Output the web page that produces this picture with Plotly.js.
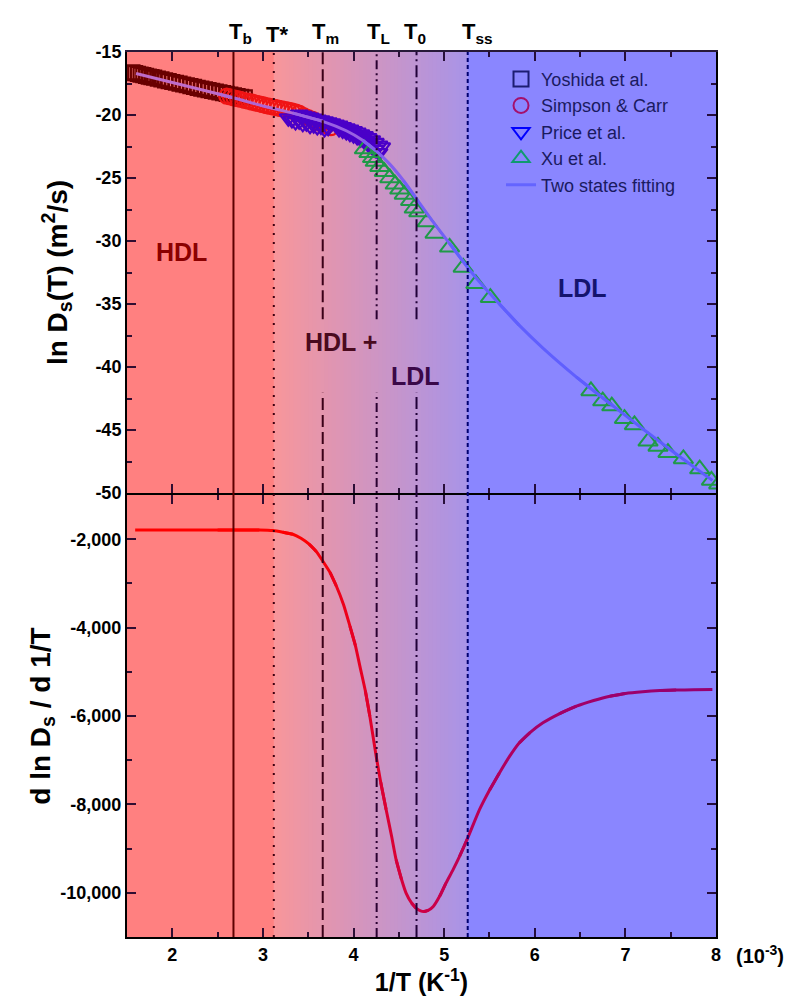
<!DOCTYPE html>
<html><head><meta charset="utf-8">
<script src="https://cdn.plot.ly/plotly-3.0.1.min.js"></script>
<style>html,body{margin:0;padding:0;background:#fff}#chart{width:791px;height:1001px}</style>
</head><body><div id="chart"></div>
<script>
// ---------- data ----------
const fitX = [1.60,2.00,2.50,2.67,3.00,3.33,3.66,3.92,4.10,4.25,4.40,4.55,4.69,4.88,5.06,5.26,5.42,5.61,5.83,6.09,6.46,6.83,7.19,7.56,7.96];
const fitY = [-16.70,-17.42,-18.32,-18.63,-19.28,-19.85,-20.50,-21.25,-22.00,-22.85,-23.90,-25.20,-26.60,-28.50,-30.20,-32.10,-33.50,-35.00,-36.70,-38.50,-40.80,-42.90,-44.90,-46.90,-49.00];

const derivX = [1.59,2.00,2.50,2.96,3.11,3.22,3.33,3.42,3.51,3.59,3.66,3.74,3.81,3.89,3.96,4.02,4.07,4.13,4.18,4.25,4.30,4.36,4.42,4.47,4.53,4.58,4.64,4.69,4.74,4.78,4.83,4.88,4.95,5.02,5.10,5.17,5.26,5.39,5.50,5.61,5.72,5.83,5.95,6.09,6.27,6.46,6.65,6.83,7.00,7.19,7.38,7.56,7.75,7.96];
const derivY = [-1790,-1790,-1790,-1790,-1803,-1840,-1887,-1980,-2113,-2280,-2492,-2750,-3058,-3480,-3965,-4400,-4872,-5430,-6005,-6911,-7500,-8119,-8720,-9252,-9700,-10008,-10230,-10348,-10410,-10424,-10390,-10310,-10080,-9780,-9470,-9177,-8760,-8119,-7680,-7287,-6920,-6607,-6370,-6154,-5950,-5778,-5650,-5551,-5490,-5451,-5425,-5413,-5405,-5400];

const yoshidaX = [1.56,1.59,1.62,1.65,1.68,1.71,1.74,1.77,1.80,1.84,1.88,1.92,1.96,2.00,2.04,2.08,2.12,2.16,2.20,2.24,2.28,2.32,2.36,2.40,2.44,2.48,2.52,2.56,2.60,2.64,2.68,2.72,2.76,2.80];
const yoshidaY = [-16.62,-16.68,-16.73,-16.79,-16.84,-16.89,-16.95,-17.00,-17.04,-17.11,-17.18,-17.25,-17.31,-17.38,-17.44,-17.51,-17.58,-17.64,-17.71,-17.77,-17.84,-17.90,-17.97,-18.03,-18.09,-18.15,-18.21,-18.27,-18.33,-18.39,-18.44,-18.50,-18.55,-18.60];

const simpsonX = [2.60,2.64,2.68,2.72,2.76,2.80,2.84,2.88,2.92,2.96,3.00,3.04,3.08,3.12,3.16,3.20,3.24,3.28,3.32,3.36,3.40,3.45,3.50,3.55,3.60,3.65,3.70,3.75];
const simpsonY = [-18.50,-18.56,-18.64,-18.70,-18.77,-18.85,-18.91,-18.98,-19.05,-19.11,-19.18,-19.25,-19.31,-19.37,-19.43,-19.50,-19.56,-19.62,-19.68,-19.75,-19.85,-20.05,-20.20,-20.35,-20.55,-20.70,-20.85,-21.00];

const priceX = [3.28,3.32,3.36,3.40,3.44,3.48,3.52,3.56,3.60,3.64,3.68,3.72,
                3.40,3.44,3.48,3.52,3.56,3.60,3.64,3.68,3.72,3.76,3.80,3.84,3.88,3.92,3.96,4.00,4.04,4.08,4.12,4.16,4.20,4.24,4.28,4.31,
                3.84,3.88,3.92,3.96,4.00,4.04,4.08,4.12,4.16,4.20,4.24,4.28];
const priceY = [-20.25,-20.40,-20.55,-20.50,-20.70,-20.65,-20.85,-20.80,-20.95,-20.90,-21.10,-21.00,
                -19.95,-20.03,-20.11,-20.19,-20.27,-20.35,-20.40,-20.48,-20.56,-20.64,-20.75,-20.83,-20.95,-21.04,-21.13,-21.25,-21.37,-21.52,-21.66,-21.82,-22.00,-22.20,-22.40,-22.55,
                -21.10,-21.22,-21.35,-21.48,-21.60,-21.75,-21.92,-22.10,-22.30,-22.50,-22.75,-23.00];

const xuX = [4.12,4.17,4.21,4.24,4.29,4.34,4.40,4.46,4.51,4.56,4.63,4.67,4.72,4.81,4.90,5.06,5.21,5.35,5.51,6.62,6.75,6.85,6.99,7.10,7.25,7.36,7.47,7.64,7.82,7.95,8.03];
const xuY = [-22.70,-23.00,-23.40,-23.70,-24.10,-24.50,-25.00,-25.50,-25.90,-26.30,-26.80,-27.40,-27.70,-28.50,-29.40,-30.50,-32.10,-33.40,-34.50,-41.90,-42.70,-43.10,-44.10,-44.60,-45.90,-46.30,-46.80,-47.30,-48.10,-49.00,-49.30];

const transitionNames = ['T<sub>b</sub>','T*','T<sub>m</sub>','T<sub>L</sub>','T<sub>0</sub>','T<sub>ss</sub>'];
const transitionX = [2.675, 3.12, 3.66, 4.255, 4.695, 5.26];

const xTickVals = [2,3,4,5,6,7,8];
const xTickText = ['2','3','4','5','6','7','8'];
const topTickVals = [-15,-20,-25,-30,-35,-40,-45,-50];
const topTickText = ['-15','-20','-25','-30','-35','-40','-45','-50'];
const botTickVals = [-2000,-4000,-6000,-8000,-10000];
const botTickText = ['-2,000','-4,000','-6,000','-8,000','-10,000'];

const legendNames = ['Yoshida et al.','Simpson &amp; Carr','Price et al.','Xu et al.','Two states fitting'];

// ---------- styling ----------
const FONT = 'Arial, "Liberation Sans", sans-serif';
const XMIN = 1.5, XMAX = 8.0;

function lerpStops(stops, x) {
  if (x <= stops[0][0]) return stops[0][1];
  for (let i = 1; i < stops.length; i++) {
    if (x <= stops[i][0]) {
      const t = (x - stops[i-1][0]) / (stops[i][0] - stops[i-1][0]);
      return stops[i-1][1].map((c, k) => Math.round(c + t * (stops[i][1][k] - c)));
    }
  }
  return stops[stops.length-1][1];
}
const rgb = c => `rgb(${c[0]},${c[1]},${c[2]})`;

const traces = [];
function markerTrace(x, y, symbol, color, size, lw) {
  return {x, y, type:'scatter', mode:'markers', xaxis:'x', yaxis:'y', showlegend:false, hoverinfo:'skip',
    marker:{symbol, size, color, line:{width:lw, color}}};
}
traces.push(markerTrace(yoshidaX, yoshidaY, 'square-open', '#6a0000', 14, 2.2));
traces.push(markerTrace(simpsonX, simpsonY, 'circle-open', '#f01414', 15, 2.2));
traces.push(markerTrace(priceX, priceY, 'triangle-down-open', '#4a00c8', 15, 2.2));
traces.push(markerTrace(xuX, xuY, 'triangle-up-open', '#1f9a48', 17, 2));

// gradient-coloured smooth curve: short spline pieces sharing end points
function gradientCurve(xs, ys, stops, xa, ya, width) {
  const step = 3;
  for (let i = 0; i < xs.length - 1; i += step) {
    const j = Math.min(i + step + 1, xs.length);
    const px = xs.slice(Math.max(0, i - 1), j), py = ys.slice(Math.max(0, i - 1), j);
    const xm = (xs[i] + xs[j-1]) / 2;
    traces.push({x:px, y:py, type:'scatter', mode:'lines', showlegend:false, hoverinfo:'skip', xaxis:xa, yaxis:ya,
      line:{color:rgb(lerpStops(stops, xm)), width, shape:'spline', smoothing:0.6}});
  }
}
const fitStops = [[1.5,[198,112,196]],[3.5,[172,100,214]],[4.5,[130,94,240]],[5.5,[98,96,254]],[8,[92,92,255]]];
const derStops = [[1.5,[255,0,0]],[3.4,[255,0,0]],[4.8,[206,0,70]],[6.0,[168,0,100]],[8,[150,0,112]]];
gradientCurve(fitX, fitY, fitStops, 'x', 'y', 3);
gradientCurve(derivX, derivY, derStops, 'x2', 'y2', 3);

// legend entries
const legendStyles = [
  {symbol:'square-open', color:'#1c1c72'},
  {symbol:'circle-open', color:'#a4106c'},
  {symbol:'triangle-down-open', color:'#0000ff'},
  {symbol:'triangle-up-open', color:'#0f9a70'}
];
legendStyles.forEach((s, i) => {
  traces.push({x:[null], y:[null], type:'scatter', mode:'markers', name:legendNames[i], xaxis:'x', yaxis:'y',
    marker:{symbol:s.symbol, color:s.color, size:15, line:{width:2, color:s.color}}});
});
traces.push({x:[null], y:[null], type:'scatter', mode:'lines', name:legendNames[4], xaxis:'x', yaxis:'y',
  line:{color:'#6464ff', width:3}});

// ---------- shapes ----------
const shapes = [];
const TSTAR = transitionX[1], TSS = transitionX[5];
shapes.push({type:'rect', xref:'x', yref:'paper', x0:XMIN, x1:TSTAR + 0.02, y0:0, y1:1, fillcolor:'#ff8080', line:{width:0}, layer:'below'});
const N = 50;
const c0 = [248,150,154], c1 = [168,148,232];
for (let i = 0; i < N; i++) {
  const t = (i + 0.5) / N;
  const c = c0.map((v, k) => Math.round(v + t * (c1[k] - v)));
  shapes.push({type:'rect', xref:'x', yref:'paper', x0:TSTAR + (TSS-TSTAR)*i/N, x1:TSTAR + (TSS-TSTAR)*(i+1)/N + 0.03,
    y0:0, y1:1, fillcolor:rgb(c), line:{width:0}, layer:'below'});
}
shapes.push({type:'rect', xref:'x', yref:'paper', x0:TSS, x1:XMAX, y0:0, y1:1, fillcolor:'#8a86ff', line:{width:0}, layer:'below'});

const lineStyles = [
  {color:'#5e0000', dash:'solid', width:2, gap:false},
  {color:'#3c0010', dash:'2px,7px', width:2, gap:false},
  {color:'#3a0018', dash:'12px,5px', width:2, gap:true},
  {color:'#2a0030', dash:'9px,4px,2px,4px,2px,4px', width:2, gap:true},
  {color:'#200038', dash:'12px,4px,2px,4px', width:2, gap:true},
  {color:'#000070', dash:'4px,3px', width:2, gap:false}
];
const GAP_LO = 0.615, GAP_HI = 0.698;
transitionX.forEach((x, i) => {
  const s = lineStyles[i];
  const segs = s.gap ? [[0, GAP_LO],[GAP_HI, 1]] : [[0, 1]];
  segs.forEach(sg => shapes.push({type:'line', xref:'x', yref:'paper', x0:x, x1:x, y0:sg[0], y1:sg[1],
    line:{color:s.color, width:s.width, dash:s.dash}, layer:'above'}));
});

// ---------- annotations ----------
const annotations = [];
const labelShift = [-6,-10,-13,-12,-15,-8];
transitionX.forEach((x, i) => {
  annotations.push({x, xref:'x', y:1, yref:'paper', xanchor:'left', yanchor:'bottom', xshift:labelShift[i], yshift:3,
    text:'<b>' + transitionNames[i] + '</b>', showarrow:false, font:{family:FONT, size:22, color:'#000'}});
});
annotations.push({x:2.10, y:-30.9, xref:'x', yref:'y', text:'<b>HDL</b>', showarrow:false, font:{family:FONT, size:25, color:'#8b0000'}});
annotations.push({x:3.86, y:-38.0, xref:'x', yref:'y', text:'<b>HDL +</b>', showarrow:false, font:{family:FONT, size:25, color:'#4a0a1e'}});
annotations.push({x:4.68, y:-40.7, xref:'x', yref:'y', text:'<b>LDL</b>', showarrow:false, font:{family:FONT, size:25, color:'#3a0848'}});
annotations.push({x:6.53, y:-33.7, xref:'x', yref:'y', text:'<b>LDL</b>', showarrow:false, font:{family:FONT, size:25, color:'#14146e'}});
annotations.push({x:1, y:0, xref:'paper', yref:'paper', xanchor:'left', yanchor:'top', xshift:18, yshift:-3,
  text:'<b>(10<sup>-3</sup>)</b>', showarrow:false, font:{family:FONT, size:20, color:'#000'}});

const tickFont = {family:FONT, size:18, color:'#000', weight:'bold'};
const TICKC = 'rgba(25,0,40,0.9)';
const commonX = {range:[XMIN, XMAX], showgrid:false, zeroline:false, showline:true, linecolor:'#000', linewidth:2,
  ticks:'inside', ticklen:9, tickwidth:2, tickcolor:TICKC, mirror:'allticks', tickmode:'array', tickvals:xTickVals, ticktext:xTickText,
  minor:{tickmode:'array', tickvals:[1.5,2.5,3.5,4.5,5.5,6.5,7.5], ticks:'inside', ticklen:5, tickwidth:2, tickcolor:TICKC}};

const layout = {
  width:791, height:1001,
  margin:{l:127, r:75, t:52, b:64},
  paper_bgcolor:'#fff', plot_bgcolor:'rgba(0,0,0,0)',
  font:{family:FONT, color:'#000'},
  showlegend:true,
  legend:{x:0.635, y:0.99, xanchor:'left', yanchor:'top', bgcolor:'rgba(0,0,0,0)', borderwidth:0,
    font:{family:FONT, size:18, color:'#1a1a60'}, tracegroupgap:0},
  xaxis:Object.assign({}, commonX, {anchor:'y', showticklabels:false, linecolor:'rgba(15,0,35,0.9)'}),
  xaxis2:Object.assign({}, commonX, {anchor:'y2', matches:'x', showticklabels:true, tickfont:tickFont,
    title:{text:'<b>1/T (K<sup>-1</sup>)</b>', font:{family:FONT, size:25, color:'#000'}, standoff:6}}),
  yaxis:{domain:[0.5017, 1], range:[-50, -15], showgrid:false, zeroline:false, showline:true, linecolor:'#000', linewidth:2,
    ticks:'inside', ticklen:9, tickwidth:2, tickcolor:TICKC, mirror:'allticks', tickmode:'array', tickvals:topTickVals, ticktext:topTickText,
    tickfont:tickFont, minor:{tickmode:'array', tickvals:[-17.5,-22.5,-27.5,-32.5,-37.5,-42.5,-47.5], ticks:'inside', ticklen:5, tickwidth:2, tickcolor:TICKC},
    title:{text:'<b>ln D<sub>s</sub>(T) (m<sup>2</sup>/s)</b>', font:{family:FONT, size:28, color:'#000'}, standoff:20}},
  yaxis2:{domain:[0, 0.4994], range:[-11000, -1000], showgrid:false, zeroline:false, showline:true, linecolor:'#000', linewidth:2,
    ticks:'inside', ticklen:9, tickwidth:2, tickcolor:TICKC, mirror:'allticks', tickmode:'array', tickvals:botTickVals, ticktext:botTickText,
    tickfont:tickFont, minor:{tickmode:'array', tickvals:[-3000,-5000,-7000,-9000], ticks:'inside', ticklen:5, tickwidth:2, tickcolor:TICKC},
    title:{text:'<b>d ln D<sub>s</sub> / d 1/T</b>', font:{family:FONT, size:28, color:'#000'}, standoff:2}},
  shapes, annotations
};

Plotly.newPlot('chart', traces, layout, {staticPlot:true, displayModeBar:false});
</script>
</body></html>
